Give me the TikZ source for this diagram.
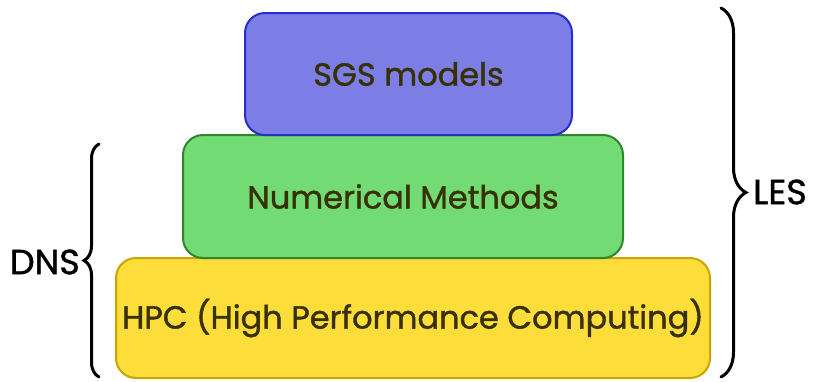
\documentclass[tikz,border=0pt]{standalone}
\usepackage{fontspec}
\setmainfont{Poppins}[BoldFont=Poppins, BoldFeatures={FakeBold=1.2}]
\usetikzlibrary{decorations.pathreplacing}
\definecolor{sgsfill}{RGB}{124,126,230}
\definecolor{sgsline}{RGB}{40,45,205}
\definecolor{numfill}{RGB}{114,219,116}
\definecolor{numline}{RGB}{45,135,45}
\definecolor{hpcfill}{RGB}{253,221,58}
\definecolor{hpcline}{RGB}{200,165,0}
\definecolor{labeltext}{RGB}{55,48,0}
\tikzset{
  layerbox/.style={draw, line width=2pt, rounded corners=20pt, text=labeltext,
    font=\fontsize{32}{35}\selectfont\bfseries, inner sep=0pt},
  bracebar/.style={decorate, line width=3pt, line cap=round,
    decoration={brace, amplitude=#1}},
  sidetext/.style={font=\fontsize{35}{38}\selectfont\bfseries, text=black, inner sep=0pt}
}
\begin{document}
\begin{tikzpicture}[x=1pt, y=-1pt]
  \useasboundingbox (0,0) rectangle (825,381);
  % Layers, bottom to top
  \node[layerbox, fill=hpcfill, draw=hpcline, minimum width=594pt, minimum height=120pt]
    (hpc) at (413,318) {HPC (High Performance Computing)};
  \node[layerbox, fill=numfill, draw=numline, minimum width=440pt, minimum height=123pt]
    (num) at (403,196.5) {Numerical Methods};
  \node[layerbox, fill=sgsfill, draw=sgsline, minimum width=327pt, minimum height=122pt]
    (sgs) at (408.5,74) {SGS models};
  % Braces
  \coordinate (dnsbot) at (99,377);
  \coordinate (dnstop) at (99,144);
  \coordinate (lestop) at (721,8);
  \coordinate (lesbot) at (721,377);
  \draw[bracebar=15pt] (dnsbot) -- (dnstop);
  \draw[bracebar=25pt] (lestop) -- (lesbot);
  \node[sidetext, anchor=east] (dns) at (80,262) {DNS};
  \node[sidetext, anchor=west] (les) at (753,192) {LES};
\end{tikzpicture}
\end{document}
